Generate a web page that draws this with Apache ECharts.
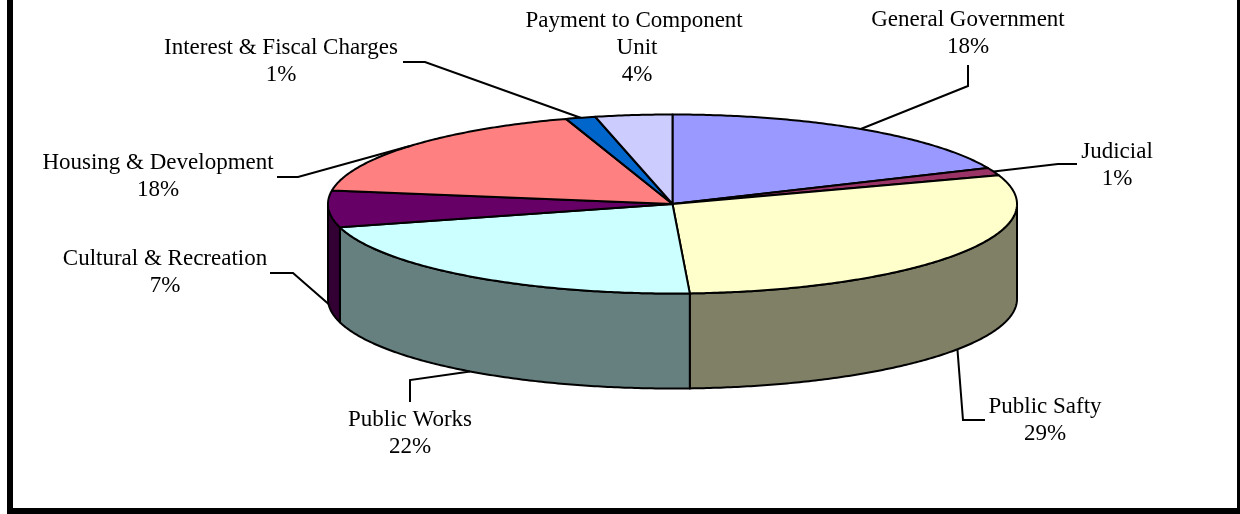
<!DOCTYPE html>
<html><head><meta charset="utf-8">
<script src="https://cdn.jsdelivr.net/npm/echarts@6/dist/echarts.min.js"></script>
<style>html,body{margin:0;padding:0;background:#fff}#c{width:1240px;height:514px}</style>
</head><body><div id="c"></div>
<script>
const categories = ['General Government','Judicial','Public Safty','Public Works','Cultural & Recreation','Housing & Development','Interest & Fiscal Charges','Payment to Component Unit'];
const values = [18.4, 1.4, 29.4, 21.6, 6.6, 17.6, 1.4, 3.6];

// ---- styles / layout ----
const topColors = ['#9999FF','#993366','#FFFFCC','#CCFFFF','#660066','#FF8080','#0066CC','#CCCCFF'];
const PIE = { cx: 672.5, cy: 204, rx: 344.5, ry: 89.5, depth: 95 };
const FONT = '23px "Liberation Serif", "Times New Roman", serif';
const labelLayout = [
  { x: 968,  y: 33.5, elbow: [[968,65],[968,86]] },
  { x: 1117, y: 165,  elbow: [[1077,164],[1058,164]] },
  { x: 1045, y: 420,  elbow: [[985,420],[963,420]] },
  { x: 410,  y: 433.5,elbow: [[410,402],[410,380]] },
  { x: 165,  y: 272,  elbow: [[270,273],[293,273]] },
  { x: 158,  y: 176,  elbow: [[277,177],[298,177]] },
  { x: 281,  y: 61,   elbow: [[403,62],[425,62]] },
  { x: 637,  y: 47.5, elbow: [], width: 240 }
];

function darker(hex) {
  const n = parseInt(hex.slice(1), 16);
  const r = (n >> 16) & 255, g = (n >> 8) & 255, b = n & 255;
  return 'rgb(' + Math.round(r/2) + ',' + Math.round(g/2) + ',' + Math.round(b/2) + ')';
}
const total = values.reduce((a, b) => a + b, 0);
const bounds = [0];
values.forEach(v => bounds.push(bounds[bounds.length - 1] + v / total * Math.PI * 2));

function pt(t, dy) {
  return [PIE.cx + PIE.rx * Math.sin(t), PIE.cy - PIE.ry * Math.cos(t) + dy];
}
function arc(a, b, dy) {
  const n = Math.max(2, Math.ceil(Math.abs(b - a) / 0.01));
  const out = [];
  for (let k = 0; k <= n; k++) out.push(pt(a + (b - a) * k / n, dy));
  return out;
}

function renderItem(params, api) {
  const i = params.dataIndex;
  const a1 = bounds[i], a2 = bounds[i + 1];
  const fill = topColors[i];
  const children = [];
  const s = Math.max(a1, Math.PI / 2), e = Math.min(a2, Math.PI * 1.5);
  if (e > s) {
    children.push({
      type: 'polygon', z2: 1,
      shape: { points: arc(s, e, 0).concat(arc(e, s, PIE.depth)) },
      style: { fill: darker(fill), stroke: '#000', lineWidth: 2, lineJoin: 'round' }
    });
  }
  children.push({
    type: 'polygon', z2: 2,
    shape: { points: [[PIE.cx, PIE.cy]].concat(arc(a1, a2, 0)) },
    style: { fill: fill, stroke: '#000', lineWidth: 2, lineJoin: 'round' }
  });
  const m = (a1 + a2) / 2;
  const front = m > Math.PI / 2 && m < Math.PI * 1.5;
  const anchor = pt(m, front ? PIE.depth : 0);
  const L = labelLayout[i];
  if (L.elbow.length) {
    children.push({
      type: 'polyline', z2: 5,
      shape: { points: L.elbow.concat([anchor]) },
      style: { fill: null, stroke: '#000', lineWidth: 2 }
    });
  }
  const pct = Math.round(api.value(0) / total * 100) + '%';
  const ts = {
    text: categories[i] + '\n' + pct,
    fill: '#000', font: FONT, fontSize: 23, fontFamily: '"Liberation Serif", serif',
    align: 'center', verticalAlign: 'middle', textAlign: 'center', textVerticalAlign: 'middle',
    lineHeight: 27
  };
  if (L.width) { ts.width = L.width; ts.overflow = 'break'; }
  children.push({ type: 'text', z2: 6, x: L.x, y: L.y, style: ts });
  return { type: 'group', children: children };
}

const chart = echarts.init(document.getElementById('c'), null, { renderer: 'canvas' });
chart.setOption({
  animation: false,
  backgroundColor: '#fff',
  graphic: [{
    type: 'rect', z: -1,
    shape: { x: 10, y: -20, width: 1230, height: 531 },
    style: { fill: 'none', stroke: '#000', lineWidth: 6 }
  }],
  series: [{
    type: 'custom',
    coordinateSystem: 'none',
    renderItem: renderItem,
    data: values.map(v => [v])
  }]
});
</script>
</body></html>
